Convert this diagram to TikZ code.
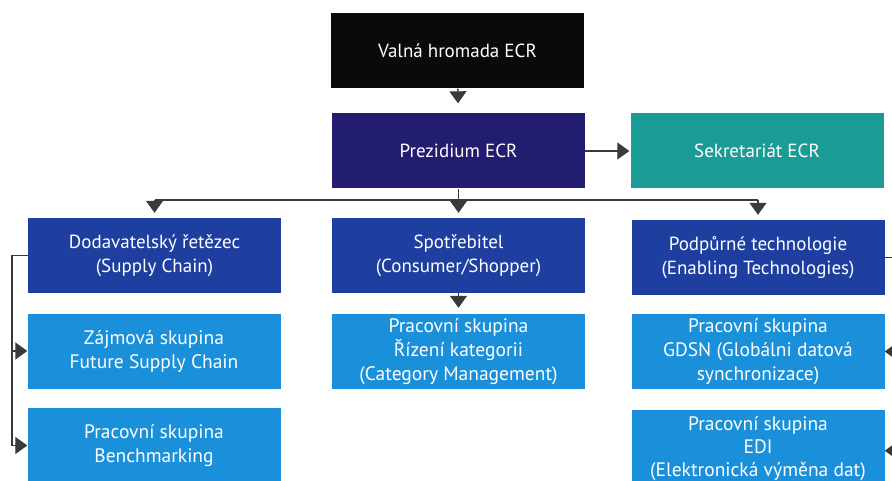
\documentclass[tikz,border=0pt]{standalone}
\usepackage{fontspec}
\setmainfont{PT Sans}
\usetikzlibrary{arrows.meta}

\definecolor{boardblack}{HTML}{0A0A0A}
\definecolor{presviolet}{HTML}{221D70}
\definecolor{secteal}{HTML}{1B9B96}
\definecolor{areablue}{HTML}{1E3F9F}
\definecolor{groupblue}{HTML}{1A8FDA}
\definecolor{linegray}{HTML}{3A3A3A}

\begin{document}
\begin{tikzpicture}[x=1pt, y=-1pt,
    box/.style={rectangle, minimum width=253pt, minimum height=75pt,
        inner sep=2pt, align=center, text=white},
    topbox/.style={box, font=\fontsize{19}{24}\selectfont},
    areabox/.style={box, fill=areablue, font=\fontsize{19}{24}\selectfont},
    groupbox/.style={box, fill=groupblue, font=\fontsize{19.5}{24}\selectfont},
    line/.style={draw=linegray, line width=1.3pt},
    arrow/.style={line, -{Triangle[width=17pt,length=12pt]}}
]
    \useasboundingbox (0,0) rectangle (892,481);
    \clip (0,0) rectangle (892,481);
    % top
    \node[topbox, fill=boardblack] (valna) at (457.5,51) {Valná hromada ECR};
    \node[topbox, fill=presviolet] (prez) at (458.5,151) {Prezidium ECR};
    \node[topbox, fill=secteal] (sekr) at (757,151) {Sekretariát ECR};
    % areas
    \node[areabox] (dod) at (154.5,255.5) {Dodavatelský řetězec\\(Supply Chain)};
    \node[areabox] (spot) at (458.5,255.5) {Spotřebitel\\(Consumer/Shopper)};
    \node[areabox] (podp) at (758,257.5) {Podpůrné technologie\\(Enabling Technologies)};
    % groups
    \node[groupbox] (zajm) at (154,351) {Zájmová skupina\\Future Supply Chain};
    \node[groupbox] (bench) at (154,445.5) {Pracovní skupina\\Benchmarking};
    \node[groupbox] (rizeni) at (458.5,351.5) {Pracovní skupina\\Řízení kategorii\\(Category Management)};
    \node[groupbox] (gdsn) at (758,351.5) {Pracovní skupina\\GDSN (Globálni datová\\synchronizace)};
    \node[groupbox, minimum height=77pt, font=\fontsize{19.5}{23}\selectfont,
        anchor=north] (edi) at (758,410) {Pracovní skupina\\EDI\\(Elektronická výměna dat)};
    \coordinate (bus) at (458.5,200);
    \coordinate (lbus) at (12,255.5);
    \coordinate (rbus) at (896,257.5);
    % connectors
    \draw[arrow, shorten >=10pt] (valna) -- (prez);
    \draw[arrow, shorten >=1pt] (prez) -- (sekr);
    \draw[line] (prez) -- (bus);
    \draw[line] (dod.north |- bus) -- (podp.north |- bus);
    \draw[arrow, shorten >=5pt] (dod.north |- bus) -- (dod.north);
    \draw[arrow, shorten >=5pt] (bus) -- (spot.north);
    \draw[arrow, shorten >=5pt] (podp.north |- bus) -- (podp.north);
    \draw[arrow, shorten >=6pt] (spot) -- (rizeni);
    \draw[line] (dod.west) -- (lbus);
    \draw[arrow] (lbus) |- (zajm.west);
    \draw[arrow] (lbus) |- (bench.west);
    \draw[line] (podp.east) -- (rbus);
    \draw[arrow] (rbus) |- (gdsn.east);
    \draw[arrow] (rbus) |- ([yshift=-2pt]edi.east);
\end{tikzpicture}
\end{document}
